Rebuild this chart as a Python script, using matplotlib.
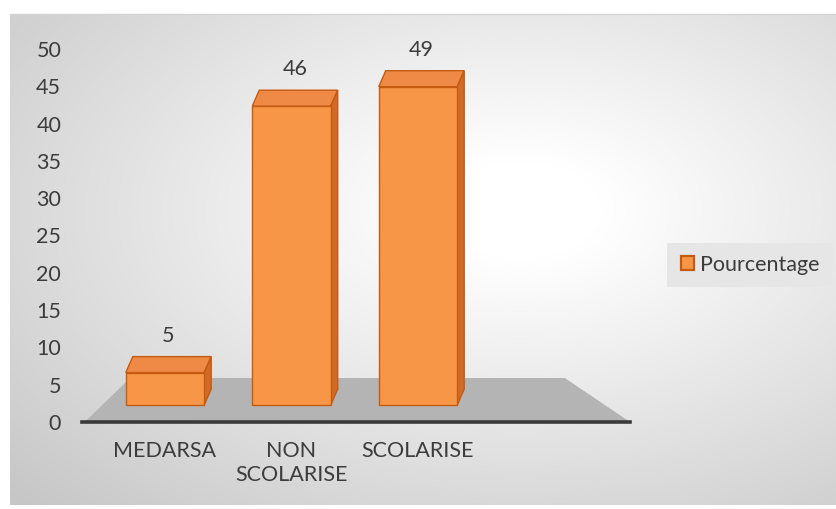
import numpy as np
import matplotlib
matplotlib.use("Agg")
import matplotlib.pyplot as plt
from matplotlib.patches import Polygon, Rectangle, Patch
from matplotlib.lines import Line2D

plt.rcParams['font.family'] = ['Lato', 'DejaVu Sans']

categories = ["MEDARSA", "NON\nSCOLARISE", "SCOLARISE"]
pourcentage = [5, 46, 49]
yticks = [0, 5, 10, 15, 20, 25, 30, 35, 40, 45, 50]

W, H = 837, 509
FS = 15.5
TEXT = '#3c3c3c'
FRONT = '#F79646'
TOP = '#EE8A45'
SIDE = '#D06A26'
EDGE = '#C55A11'


def px_rect(x0, y0, x1, y1):  # pixel box -> figure fraction rect
    return [x0 / W, 1 - y1 / H, (x1 - x0) / W, (y1 - y0) / H]


fig = plt.figure(figsize=(W / 100, H / 100), dpi=100)
fig.patch.set_facecolor('white')

# radial grey background of the chart area
bg = fig.add_axes(px_rect(10, 14, 837, 505), zorder=0)
gx, gy = np.meshgrid(np.linspace(10, 837, 400), np.linspace(14, 505, 250))
r = np.sqrt(((gx - 520) / 560) ** 2 + ((gy - 210) / 330) ** 2)
shade = 1 - 0.2 * np.clip(r - 0.15, 0, None)
shade = np.clip(shade, 0.78, 1)
bg.imshow(np.dstack([shade] * 3), aspect='auto', extent=[0, 1, 0, 1])
bg.axis('off')
fig.add_artist(Line2D([10 / W, 1], [1 - 14 / H] * 2, color='#d4d4d4', lw=1))

# value axis (back wall scale)
ax = fig.add_axes(px_rect(82, 49, 630, 422), zorder=1)
ax.patch.set_alpha(0)
ax.set_ylim(0, 50)
ax.set_xlim(-0.656, 3.676)
ax.set_yticks(yticks)
ax.set_yticklabels([str(t) for t in yticks], fontsize=FS, color=TEXT)
ax.tick_params(axis='y', length=0, pad=15)
ax.set_xticks(range(len(categories)))
ax.set_xticklabels(categories, fontsize=FS, color=TEXT, linespacing=1.2)
ax.tick_params(axis='x', length=0, pad=14)
for s in ['top', 'right', 'left']:
    ax.spines[s].set_visible(False)
ax.spines['bottom'].set_color('#3a3a3a')
ax.spines['bottom'].set_linewidth(2.6)

# grey floor
ax.add_patch(Polygon([(0.088, 0.118), (0.881, 0.118), (1.0, 0.0), (0.005, 0.0)],
                     closed=True, transform=ax.transAxes, facecolor='#b4b4b4',
                     edgecolor='none', zorder=1))

# bars, front plane
axb = fig.add_axes(px_rect(82, 49, 630, 422), zorder=2)
axb.patch.set_alpha(0)
axb.set_xlim(ax.get_xlim())
axb.set_ylim(-2.6, 54.8)
axb.axis('off')

xs = np.arange(len(categories))
width = 0.62
ddx = 7 / 126.5    # depth offset, x
ddy = 16 / 6.5     # depth offset, y

bars = axb.bar(xs, pourcentage, width=width, color=FRONT, edgecolor=EDGE,
               lw=1, zorder=3)
for x, v in zip(xs, pourcentage):
    x0, x1 = x - width / 2, x + width / 2
    axb.add_patch(Polygon([(x0, v), (x1, v), (x1 + ddx, v + ddy), (x0 + ddx, v + ddy)],
                          closed=True, facecolor=TOP, edgecolor=EDGE, lw=1, zorder=2))
    axb.add_patch(Polygon([(x1, 0), (x1 + ddx, ddy), (x1 + ddx, v + ddy), (x1, v)],
                          closed=True, facecolor=SIDE, edgecolor=EDGE, lw=1, zorder=2))
    axb.annotate(str(v), (x + ddx / 2, v), xytext=(0, 37), textcoords='offset pixels',
                 ha='center', va='center', fontsize=FS, color=TEXT)

# legend
fig.add_artist(Rectangle((667 / W, 1 - 287 / H), 166 / W, 44 / H,
                         transform=fig.transFigure, facecolor='#e6e6e6',
                         edgecolor='none', zorder=1))
handle = Patch(facecolor=FRONT, edgecolor=EDGE, lw=1.6, label='Pourcentage')
fig.legend(handles=[handle], loc='center left',
           bbox_to_anchor=(666 / W, 1 - 265 / H), frameon=False, fontsize=FS,
           handlelength=0.62, handleheight=0.62, handletextpad=0.25,
           borderpad=0.2, labelcolor=TEXT)

fig.savefig('out.png', dpi=100)
